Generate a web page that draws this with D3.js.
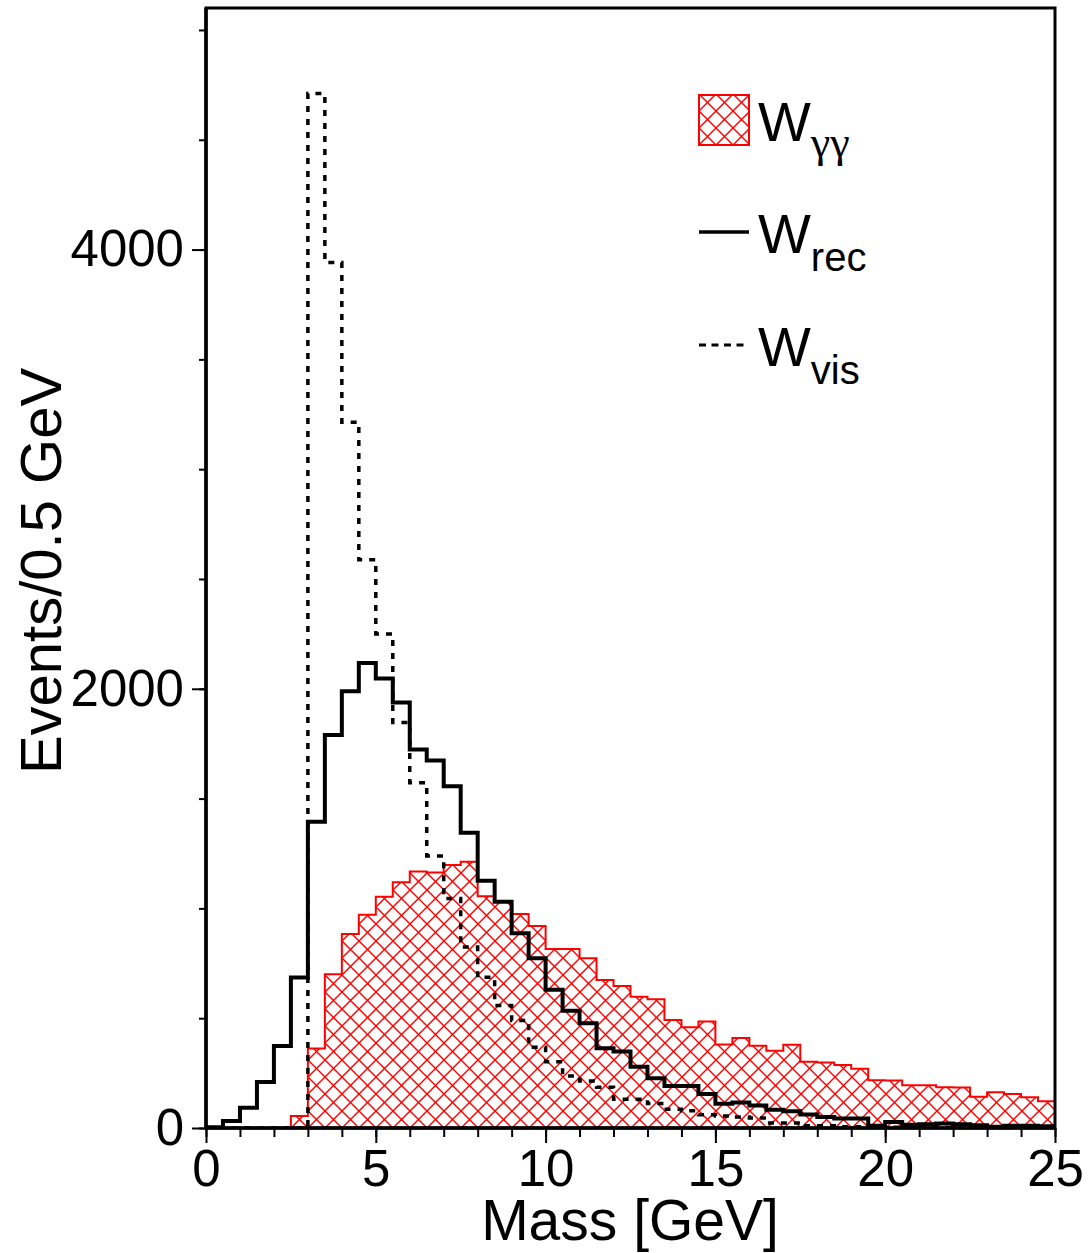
<!DOCTYPE html>
<html>
<head>
<meta charset="utf-8">
<script src="https://cdn.jsdelivr.net/npm/d3@7/dist/d3.min.js"></script>
<style>
  html, body { margin: 0; padding: 0; background: #fff; }
  svg { display: block; }
  text { font-family: "Liberation Sans", Arial, Helvetica, sans-serif; fill: #000; }
</style>
</head>
<body>
<svg id="chart" width="1088" height="1253"></svg>
<script>
// ---- Data (bin low edges, 0.5 GeV bins) ----
const binLow = [0,0.5,1,1.5,2,2.5,3,3.5,4,4.5,5,5.5,6,6.5,7,7.5,8,8.5,9,9.5,
  10,10.5,11,11.5,12,12.5,13,13.5,14,14.5,15,15.5,16,16.5,17,17.5,18,18.5,19,19.5,
  20,20.5,21,21.5,22,22.5,23,23.5,24,24.5];
const binWidth = 0.5;

const wGammaGamma = [0,0,0,0,0,55,362,700,883,971,
  1053,1119,1168,1163,1198,1212,1055,1031,975,920,
  815,815,773,674,647,598,586,492,459,485,
  380,410,374,352,379,302,298,287,270,217,
  216,195,195,186,184,142,163,155,140,122];

const wRec = [3,32,92,209,373,685,1395,1789,1989,2117,
  2047,1938,1724,1674,1556,1345,1126,1030,887,773,
  629,534,477,363,348,279,226,191,191,155,
  110,116,103,83,76,61,50,43,43,10,
  27,15,17,20,17,13,6,10,10,8];

const wVis = [0,0,0,0,0,0,4711,3941,3214,2588,
  2250,1847,1572,1239,1045,824,686,558,489,368,
  302,237,214,185,131,131,112,85,79,60,
  55,50,46,23,23,10,10,6,6,3,
  3,2,2,2,2,1,1,1,1,1];

const xMajorTicks = [0,5,10,15,20,25];
const xMinorTicks = [0,1,2,3,4,5,6,7,8,9,10,11,12,13,14,15,16,17,18,19,20,21,22,23,24,25];
const yMajorTicks = [0,2000,4000];
const yMinorTicks = [0,500,1000,1500,2000,2500,3000,3500,4000,4500,5000];
const xDomain = [0,25];
const yDomain = [0,5100];

const legendItems = [
  {main: "W", sub: "γγ", kind: "fill"},
  {main: "W", sub: "rec", kind: "solid"},
  {main: "W", sub: "vis", kind: "dash"}
];

// ---- Layout ----
const L = 206, R = 1055, T = 8, B = 1128;
const HATCH = 17;
const svg = d3.select("#chart");
const x = d3.scaleLinear().domain(xDomain).range([L, R]);
const y = d3.scaleLinear().domain(yDomain).range([B, T]);
const defs = svg.append("defs");

defs.append("clipPath").attr("id", "plotclip")
  .append("rect").attr("x", L).attr("y", T).attr("width", R - L).attr("height", B - T);

function hatchLine(sel, x1, y1, x2, y2) {
  sel.append("line").attr("x1", x1).attr("y1", y1).attr("x2", x2).attr("y2", y2)
    .attr("stroke", "#ff0000").attr("stroke-width", 1.4);
}

// draws red cross-hatching inside a clip region
function crossHatch(parent, clipId, y0) {
  const hg = parent.append("g").attr("clip-path", `url(#${clipId})`);
  const h = B - y0 + 20;
  for (let c = L - Math.ceil(h / HATCH) * HATCH; c <= R + h; c += HATCH) {
    hatchLine(hg, c, B, c + h, B - h);
    hatchLine(hg, c, B, c - h, B - h);
  }
}

function stepPoints(vals) {
  const pts = binLow.map((b, i) => [b, vals[i]]);
  pts.push([binLow[binLow.length - 1] + binWidth, vals[vals.length - 1]]);
  return pts;
}

const g = svg.append("g").attr("clip-path", "url(#plotclip)");

// W_gamma_gamma hatched area
const area = d3.area().curve(d3.curveStepAfter)
  .x(d => x(d[0])).y0(y(0)).y1(d => y(d[1]));
defs.append("clipPath").attr("id", "ggclip")
  .append("path").attr("d", area(stepPoints(wGammaGamma)));
crossHatch(g, "ggclip", y(d3.max(wGammaGamma)));

const line = d3.line().curve(d3.curveStepAfter).x(d => x(d[0])).y(d => y(d[1]));
g.append("path").datum(stepPoints(wGammaGamma))
  .attr("d", line).attr("fill", "none").attr("stroke", "#ff0000").attr("stroke-width", 2);

// W_vis dashed
g.append("path").datum(stepPoints(wVis))
  .attr("d", line).attr("fill", "none").attr("stroke", "#000")
  .attr("stroke-width", 3.5).attr("stroke-dasharray", "6,7");

// W_rec solid
g.append("path").datum(stepPoints(wRec))
  .attr("d", line).attr("fill", "none").attr("stroke", "#000")
  .attr("stroke-width", 4).attr("stroke-linejoin", "miter");

// ---- Axes ----
const xMinor = svg.append("g").attr("transform", `translate(0,${B})`)
  .call(d3.axisBottom(x).tickValues(xMinorTicks).tickSize(9).tickFormat(""));
const xMajor = svg.append("g").attr("transform", `translate(0,${B})`)
  .call(d3.axisBottom(x).tickValues(xMajorTicks).tickSize(15).tickPadding(7).tickFormat(d3.format("d")));
const yMinor = svg.append("g").attr("transform", `translate(${L},0)`)
  .call(d3.axisLeft(y).tickValues(yMinorTicks).tickSize(7).tickFormat(""));
const yMajor = svg.append("g").attr("transform", `translate(${L},0)`)
  .call(d3.axisLeft(y).tickValues(yMajorTicks).tickSize(14).tickPadding(8).tickFormat(d3.format("d")));

[xMinor, xMajor, yMinor, yMajor].forEach(a => {
  a.select(".domain").remove();
  a.selectAll(".tick line").attr("stroke", "#000").attr("stroke-width", 2);
  a.selectAll(".tick text").attr("font-size", 51)
    .attr("font-family", "'Liberation Sans', Arial, sans-serif").attr("fill", "#000");
});

// Frame
svg.append("rect").attr("x", L).attr("y", T).attr("width", R - L).attr("height", B - T)
  .attr("fill", "none").attr("stroke", "#000").attr("stroke-width", 3);
svg.append("line").attr("x1", L).attr("x2", R).attr("y1", B).attr("y2", B)
  .attr("stroke", "#000").attr("stroke-width", 3.5);
svg.append("line").attr("x1", L).attr("x2", L).attr("y1", T).attr("y2", B)
  .attr("stroke", "#000").attr("stroke-width", 3.5);

// Axis titles
svg.append("text").attr("x", 630).attr("y", 1240).attr("text-anchor", "middle")
  .attr("font-size", 57).text("Mass [GeV]");
svg.append("text").attr("transform", "translate(61,571) rotate(-90)")
  .attr("text-anchor", "middle").attr("font-size", 58).text("Events/0.5 GeV");

// ---- Legend ----
const legY = [120, 232, 345];
const leg = svg.append("g");
legendItems.forEach((it, i) => {
  const cy = legY[i];
  if (it.kind === "fill") {
    defs.append("clipPath").attr("id", "legclip")
      .append("rect").attr("x", 699).attr("y", cy - 25).attr("width", 50).attr("height", 50);
    const lg = leg.append("g").attr("clip-path", "url(#legclip)");
    for (let c = 699 - 68; c <= 749 + 68; c += HATCH) {
      hatchLine(lg, c, cy + 25, c + 60, cy - 35);
      hatchLine(lg, c, cy + 25, c - 60, cy - 35);
    }
    leg.append("rect").attr("x", 699).attr("y", cy - 25).attr("width", 50).attr("height", 50)
      .attr("fill", "none").attr("stroke", "#ff0000").attr("stroke-width", 2);
  } else {
    leg.append("line").attr("x1", 699).attr("x2", 749).attr("y1", cy).attr("y2", cy)
      .attr("stroke", "#000").attr("stroke-width", it.kind === "solid" ? 3.5 : 3)
      .attr("stroke-dasharray", it.kind === "dash" ? "7,5.5" : null);
  }
  const t = leg.append("text").attr("x", 758).attr("y", cy + 21).attr("font-size", 56);
  t.append("tspan").text(it.main);
  const s = t.append("tspan").attr("dy", 18).attr("font-size", 40).text(it.sub);
  if (it.kind === "fill") s.attr("font-family", "'Liberation Serif', 'DejaVu Serif', serif").attr("font-size", 44).attr("dy", 16);
});
</script>
</body>
</html>
